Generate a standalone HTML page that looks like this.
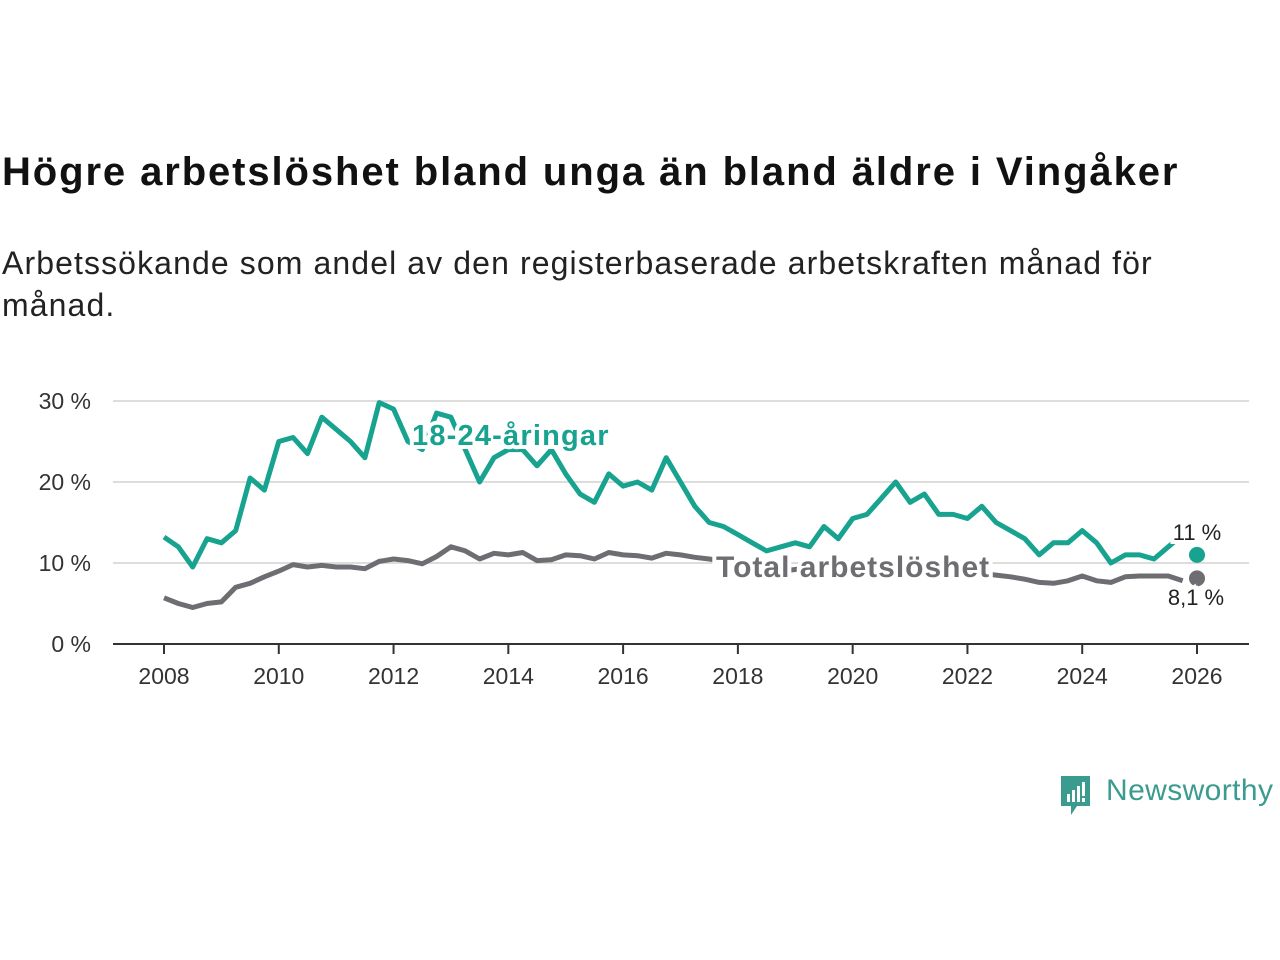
<!DOCTYPE html>
<html><head><meta charset="utf-8">
<style>
body{margin:0;width:1280px;height:960px;background:#fff;font-family:"Liberation Sans",sans-serif;overflow:hidden;position:relative}
#title{position:absolute;left:2px;top:150px;font-size:40px;font-weight:bold;color:#111;margin:0;letter-spacing:1.9px}
#sub{position:absolute;left:2px;top:242px;font-size:32px;color:#222;line-height:42px;width:1275px;letter-spacing:1.1px}
svg{position:absolute;left:0;top:0}
</style></head><body>
<h1 id="title">Högre arbetslöshet bland unga än bland äldre i Vingåker</h1>
<div id="sub">Arbetssökande som andel av den registerbaserade arbetskraften månad för<br>månad.</div>
<svg id="chart" width="1280" height="960"></svg>
<script>
const years=[2008,2008.25,2008.5,2008.75,2009,2009.25,2009.5,2009.75,2010,2010.25,2010.5,2010.75,2011,2011.25,2011.5,2011.75,2012,2012.25,2012.5,2012.75,2013,2013.25,2013.5,2013.75,2014,2014.25,2014.5,2014.75,2015,2015.25,2015.5,2015.75,2016,2016.25,2016.5,2016.75,2017,2017.25,2017.5,2017.75,2018,2018.25,2018.5,2018.75,2019,2019.25,2019.5,2019.75,2020,2020.25,2020.5,2020.75,2021,2021.25,2021.5,2021.75,2022,2022.25,2022.5,2022.75,2023,2023.25,2023.5,2023.75,2024,2024.25,2024.5,2024.75,2025,2025.25,2025.5,2025.75,2026];
const youth=[13.2,12,9.5,13,12.5,14,20.5,19,25,25.5,23.5,28,26.5,25,23,29.8,29,25,24,28.5,28,24,20,23,24,24,22,24,21,18.5,17.5,21,19.5,20,19,23,20,17,15,14.5,13.5,12.5,11.5,12,12.5,12,14.5,13,15.5,16,18,20,17.5,18.5,16,16,15.5,17,15,14,13,11,12.5,12.5,14,12.5,10,11,11,10.5,12,13.5,11];
const total=[5.7,5,4.5,5,5.2,7,7.5,8.3,9,9.8,9.5,9.7,9.5,9.5,9.3,10.2,10.5,10.3,9.9,10.8,12,11.5,10.5,11.2,11,11.3,10.3,10.4,11,10.9,10.5,11.3,11,10.9,10.6,11.2,11,10.7,10.5,10.2,10,9.6,9.2,9,9.2,9.4,9.8,9.6,9.4,9.6,9.8,9.5,9.3,9.2,9,8.9,8.8,8.7,8.5,8.3,8,7.6,7.5,7.8,8.4,7.8,7.6,8.3,8.4,8.4,8.4,7.8,8.1];
const yTicks=[0,10,20,30];
const xTicks=[2008,2010,2012,2014,2016,2018,2020,2022,2024,2026];
const X=v=>164+(v-2008)*(1197-164)/18;
const Y=v=>644-v*8.1;
const svg=document.getElementById('chart');
const NS='http://www.w3.org/2000/svg';
function mk(t,a){const e=document.createElementNS(NS,t);for(const k in a)e.setAttribute(k,a[k]);svg.appendChild(e);return e;}
yTicks.forEach(t=>{
  if(t>0){const g=mk('line',{x1:113,x2:1249,y1:Y(t),y2:Y(t),stroke:'#ddd','stroke-width':2});
  
  }
  const l=mk('text',{x:91,y:Y(t)+8,'text-anchor':'end','font-size':23,fill:'#333'});l.textContent=t+' %';
  
  
});
const ax=mk('line',{x1:113,x2:1249,y1:644,y2:644,stroke:'#333','stroke-width':2});


xTicks.forEach(t=>{
  mk('line',{x1:X(t),x2:X(t),y1:644,y2:654,stroke:'#333','stroke-width':2});
  const l=mk('text',{x:X(t),y:684,'text-anchor':'middle','font-size':23,fill:'#333'});l.textContent=t;
  
  
});
function line(arr,color,name){
  const d=arr.slice(0,-1).map((v,i)=>(i?'L':'M')+X(years[i]).toFixed(1)+','+Y(v).toFixed(1)).join('');
  const p=mk('path',{d:d,fill:'none',stroke:color,'stroke-width':5,'stroke-linejoin':'round'});
  
  
  const n=arr.length-1;
  const c=mk('circle',{cx:X(years[n]),cy:Y(arr[n]),r:8,fill:color});
  
  
}
line(total,'#6e6d72','total-line');
line(youth,'#17a38f','youth-line');
function lab(x,y,t,c,sz,w,name,anchor,ls){
  const e=mk('text',{x:x,y:y,'font-size':sz,'font-weight':w,fill:c,stroke:'#fff','stroke-width':8,'paint-order':'stroke','text-anchor':anchor||'start','letter-spacing':ls||0});
  e.textContent=t;
  
  
}
lab(412,445,'18-24-åringar','#17a38f',29,'bold','youth-series-label','start',1.2);
lab(716,577,'Total arbetslöshet','#6e6d72',30,'bold','total-series-label','start',1);
lab(1197,540,'11 %','#222',22,'normal','youth-end-value','middle');
lab(1196,605,'8,1 %','#222',22,'normal','total-end-value','middle');
</script>
<div style="position:absolute;left:1059px;top:774px;">
<svg width="34" height="44" style="position:absolute;left:0;top:0"><path d="M2 2h29v30H18l-6 9v-9H2z" fill="#3a9b8e"/><rect x="8" y="20" width="3" height="8" fill="#fff"/><rect x="13" y="16" width="3" height="12" fill="#fff"/><rect x="18" y="12" width="3" height="16" fill="#fff"/><rect x="23" y="8" width="3" height="14" fill="#fff"/><rect x="23" y="24" width="3" height="4" fill="#fff"/></svg>
<span style="position:absolute;left:47px;top:0;font-size:30px;color:#3a9b8e;white-space:nowrap;letter-spacing:0.4px">Newsworthy</span>
</div>
</body></html>
